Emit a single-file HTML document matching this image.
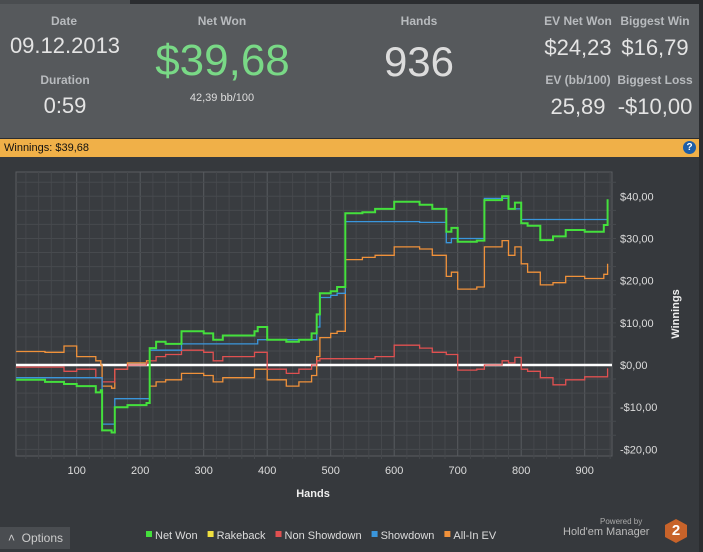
<!DOCTYPE html>
<html><head><meta charset="utf-8">
<style>
body{margin:0;width:703px;height:552px;background:#2b2d30;font-family:"Liberation Sans",sans-serif;overflow:hidden;position:relative}
.abs{position:absolute}
.lbl{color:#b8bbbe;font-size:12px;font-weight:bold;text-align:center}
.val{color:#e4e4e4;text-align:center}
</style></head><body>
<div class="abs" style="left:0;top:0;width:130px;height:5px;background:#4a4d50"></div>
<div class="abs" style="left:0;top:4px;width:699px;height:134px;background:#56595c"></div>
<div class="abs lbl" style="left:14px;top:14px;width:100px">Date</div>
<div class="abs val" style="left:4px;top:33px;width:122px;font-size:22px">09.12.2013</div>
<div class="abs lbl" style="left:14px;top:73px;width:102px">Duration</div>
<div class="abs val" style="left:14px;top:93px;width:102px;font-size:22px">0:59</div>
<div class="abs lbl" style="left:172px;top:14px;width:100px">Net Won</div>
<div class="abs" style="left:140px;top:36px;width:165px;font-size:44px;color:#79d986;text-align:center">$39,68</div>
<div class="abs val" style="left:172px;top:92px;width:100px;font-size:11px;color:#ddd">42,39 bb/100</div>
<div class="abs lbl" style="left:369px;top:14px;width:100px">Hands</div>
<div class="abs val" style="left:359px;top:38px;width:120px;font-size:42px;color:#dcdcdc">936</div>
<div class="abs lbl" style="left:536px;top:14px;width:84px">EV Net Won</div>
<div class="abs val" style="left:535px;top:35px;width:86px;font-size:22px">$24,23</div>
<div class="abs lbl" style="left:613px;top:14px;width:84px">Biggest Win</div>
<div class="abs val" style="left:612px;top:35px;width:86px;font-size:22px">$16,79</div>
<div class="abs lbl" style="left:536px;top:73px;width:84px">EV (bb/100)</div>
<div class="abs lbl" style="left:613px;top:73px;width:84px">Biggest Loss</div>
<div class="abs val" style="left:535px;top:94px;width:86px;font-size:22px">25,89</div>
<div class="abs val" style="left:612px;top:94px;width:86px;font-size:22px">-$10,00</div>
<div class="abs" style="left:0;top:139px;width:699px;height:18px;background:#f0b048;font-size:11px;line-height:18px;color:#111;padding-left:4px;box-sizing:border-box">Winnings: $39,68</div>
<div class="abs" style="left:683px;top:141px;width:13px;height:13px;border-radius:50%;background:#1d5ea8;color:#fff;font-size:10px;font-weight:bold;text-align:center;line-height:13px">?</div>
<div class="abs" style="left:0;top:157px;width:699px;height:395px;background:#36393d"></div>
<svg class="abs" id="chart" style="left:0;top:0" width="703" height="552"></svg>
<div class="abs" style="left:0;top:527px;width:70px;height:22px;background:#4a4d51;color:#ccc;font-size:12px;line-height:22px;padding-left:8px;box-sizing:border-box">&#708;&nbsp; Options</div>
<div class="abs" style="left:600px;top:517px;font-size:8px;color:#aaa">Powered by</div>
<div class="abs" style="left:563px;top:526px;font-size:11px;color:#bbb">Hold'em Manager</div>
<div class="abs" style="left:665px;top:519px;width:22px;height:24px;background:#c8632a;clip-path:polygon(50% 0,100% 25%,100% 75%,50% 100%,0 75%,0 25%);color:#fff;font-weight:bold;font-size:15px;text-align:center;line-height:24px">2</div>
<script>
const hands=[0,50,80,100,130,138,140,155,160,180,210,215,225,240,265,300,315,330,380,385,398,400,430,450,470,478,483,500,510,523,550,570,600,640,660,682,690,700,730,742,770,780,790,800,810,830,850,870,900,930,936];
const netWon=[-3.5,-4,-4.5,-5,-6.5,-6,-15.5,-16,-10,-9.5,-9,4,5.5,5,8,7.5,6,7,8,9,9,6,5.5,6,7.5,12,17,17.5,18.5,36,36.2,37,38.7,38,37,31.6,32.5,29.2,29.5,39.1,40,37,38.5,33.6,33,29.6,30.5,32,31.6,33.2,39.3];
const showdown=[-3,-3,-3,-3,-3,-3,-14,-14,-8,-8,-8,3.5,3.5,3.5,5,5,5,5,5,6,6,6,6,6,6,9,16,16.5,17,34,34,34,34,33.8,33.8,29,30,30,30,39.5,39.5,37,37,34.5,34.5,34.5,34.5,34.5,34.5,34.5,39];
const nonShowdown=[-0.5,-0.5,-1.5,-1,-3,-3,-4,-4,-1,0,0.5,1,2,2.5,3.5,3,1,2,3,3,3,-1,-2,-1,0,1,1.5,1.5,1.5,1.5,1.5,2,4.7,4,3,2.5,2.5,-1.2,-1,0,1,0.5,1.8,-1,-1.5,-3,-4.7,-3.5,-2.8,-2.8,-0.8];
const allInEv=[3.2,3,4.5,2,1,0,-5,-5.5,-1,0.5,1,-5,-4,-3.5,-2,-2.5,-4,-3,-1,-1,-1,-3.5,-5,-4,-2.5,2,6.5,7.5,8,25,25.5,26,28,27.5,26,21,22,18,18.5,28,29.5,26,28,24,22,19,19.5,21,20.5,21.5,24];
const xTicks=[100,200,300,400,500,600,700,800,900];
const yTicks=[40,30,20,10,0,-10,-20];
const yTickLabels=["$40,00","$30,00","$20,00","$10,00","$0,00","-$10,00","-$20,00"];
const legendNames=["Net Won","Rakeback","Non Showdown","Showdown","All-In EV"];
const legendColors=["#44e03c","#f0e040","#e05050","#3a96dc","#f0913a"];

const svg=document.getElementById('chart');
const NS='http://www.w3.org/2000/svg';
const L=16,R=612,T=172,B=456;
const X=h=>13.2+h*0.635;
const Y=v=>365-v*4.218;
function el(t,a){const e=document.createElementNS(NS,t);for(const k in a)e.setAttribute(k,a[k]);svg.appendChild(e);return e;}
const bg=el('rect',{x:L,y:T,width:R-L,height:B-T,fill:'#393c40',stroke:'#5a5d61'});


for(let h=20;h<=940;h+=20){const x=X(h);if(x<=L||x>=R)continue;const g=el('line',{x1:x,x2:x,y1:T,y2:B+(h%100?3:0),stroke:h%100?'#45484c':'#585b5f','stroke-width':1});

}
for(let v=-30;v<=50;v+=10/3){const y=Y(v);if(y<=T||y>=B)continue;const g=el('line',{x1:L,x2:R+(Math.abs(v%10)<0.01?0:4),y1:y,y2:y,stroke:'#474a4e','stroke-width':1});

}
xTicks.forEach(h=>{const t=el('text',{x:X(h),y:474,fill:'#dcdcdc','font-size':11,'text-anchor':'middle'});t.textContent=h;

});
yTicks.forEach((v,i)=>{const t=el('text',{x:620,y:Y(v)+4,fill:'#dcdcdc','font-size':11});t.textContent=yTickLabels[i];

});
const xt=el('text',{x:313,y:497,fill:'#eee','font-size':11,'font-weight':'bold','text-anchor':'middle'});xt.textContent='Hands';


const yt=el('text',{x:0,y:0,fill:'#eee','font-size':11,'font-weight':'bold','text-anchor':'middle',transform:'translate(679,314) rotate(-90)'});yt.textContent='Winnings';


function step(vals){let d='';for(let i=0;i<hands.length;i++){const x=X(Math.max(hands[i],4.5)),y=Y(vals[i]);d+=i?`H${x.toFixed(1)}V${y.toFixed(1)}`:`M${x.toFixed(1)},${y.toFixed(1)}`;}return d;}
const series=[[allInEv,'#f0913a','all-in-ev-line',1.3],[nonShowdown,'#e05050','non-showdown-line',1.3],[showdown,'#3a96dc','showdown-line',1.3],[netWon,'#44e03c','net-won-line',2]];
const zl=el('line',{x1:L,x2:R,y1:Y(0),y2:Y(0),stroke:'#fff','stroke-width':2.5});


series.forEach(s=>{const p=el('path',{d:step(s[0]),fill:'none',stroke:s[1],'stroke-width':s[3]});

});
let lx=146;
legendNames.forEach((n,i)=>{const r=el('rect',{x:lx,y:531,width:6,height:6,fill:legendColors[i]});


const t=el('text',{x:lx+9,y:539,fill:'#dcdcdc','font-size':11});t.textContent=n;


lx+=9+t.getComputedTextLength()+10;});
</script>
</body></html>
